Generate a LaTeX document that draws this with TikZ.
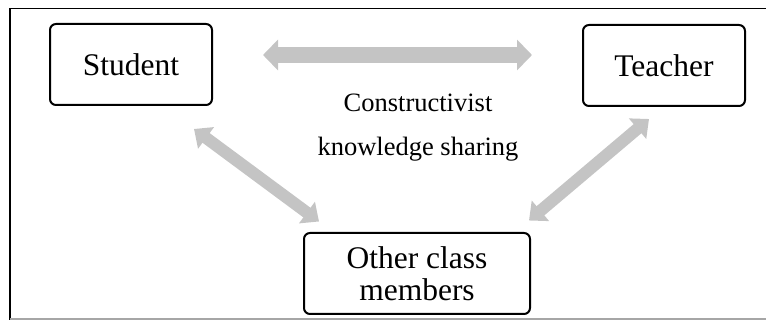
\documentclass[tikz,border=0pt]{standalone}
\usepackage{fontspec}
\setmainfont{Liberation Serif}
\usetikzlibrary{arrows.meta}
\definecolor{arrowgray}{HTML}{C4C4C4}
\tikzset{
  box/.style={draw=black, line width=2pt, rounded corners=6pt, align=center, inner sep=0pt},
  bigarrow/.style={draw=arrowgray, line width=#1},
  lbl/.style={inner sep=0pt, anchor=base, font=\fontsize{26.5}{30}\selectfont}
}
\begin{document}
\begin{tikzpicture}[x=1pt,y=-1pt]
\useasboundingbox (0,0) rectangle (766,320);
% frame
\draw[line width=1.6pt] (10,320) -- (10,8.5) -- (766,8.5);
\draw[line width=1.6pt, gray!70] (10,318.8) -- (766,318.8);
% boxes
\node[box, minimum width=162pt, minimum height=81pt, font=\fontsize{31.5}{32}\selectfont] (stu) at (131,64.5) {Student};
\node[box, minimum width=162pt, minimum height=81pt, font=\fontsize{31.5}{32}\selectfont] (tea) at (664,65.5) {Teacher};
\node[box, minimum width=226pt, minimum height=81pt, font=\fontsize{31.5}{32}\selectfont] (oth) at (417,273.5) {Other class\\members};
% labels
\node[lbl] (l1) at (418,112) {Constructivist};
\node[lbl] (l2) at (418,156) {knowledge sharing};
% arrows
\coordinate (h1) at ([shift={(50,-9.5)}]stu.east);
\coordinate (h2) at ([shift={(-50,-10.5)}]tea.west);
\draw[bigarrow=16pt, {Triangle[width=30pt,length=15pt]}-{Triangle[width=30pt,length=15pt]}] (h1) -- (h2);
\coordinate (d1) at ([shift={(-19,23)}]stu.south east);
\coordinate (d2) at ([shift={(16,-10.5)}]oth.north west);
\draw[bigarrow=12pt, {Triangle[width=26pt,length=15pt]}-{Triangle[width=26pt,length=15pt]}] (d1) -- (d2);
\coordinate (e1) at ([shift={(-15,12)}]tea.south);
\coordinate (e2) at ([shift={(-2,-11.5)}]oth.north east);
\draw[bigarrow=12pt, {Triangle[width=26pt,length=15pt]}-{Triangle[width=26pt,length=15pt]}] (e1) -- (e2);
\end{tikzpicture}
\end{document}
